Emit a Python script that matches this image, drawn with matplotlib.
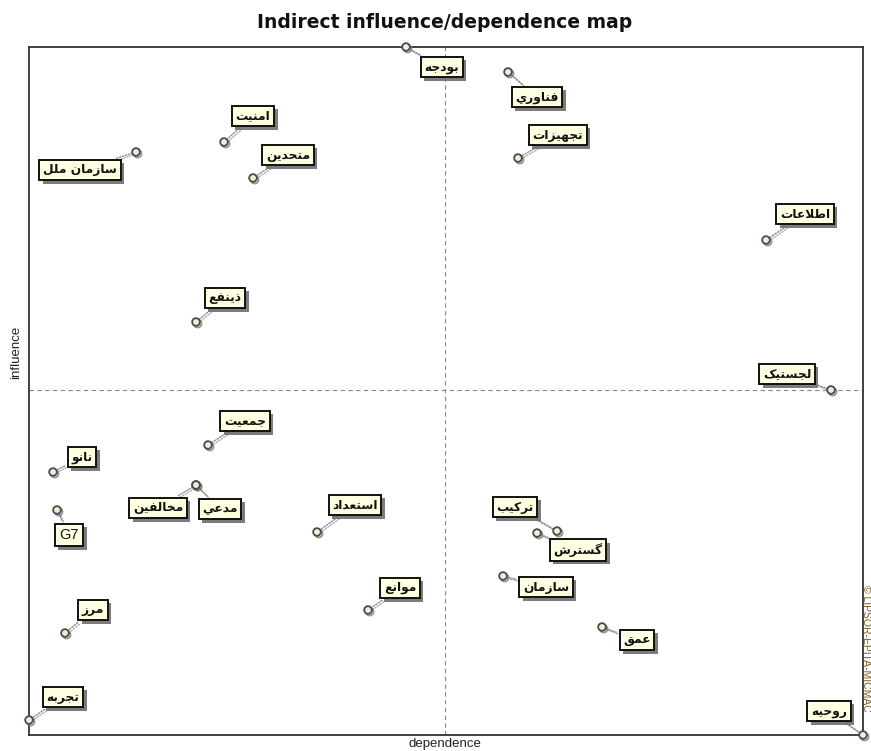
import matplotlib
matplotlib.use("Agg")
import matplotlib.pyplot as plt
import matplotlib.patheffects as pe

# ---------------- data ----------------
variables = ["بودجه", "فناوري", "تجهيزات", "امنيت", "سازمان ملل", "متحدين",
             "اطلاعات", "ذينفع", "لجستيک", "جمعيت", "نانو", "مدعي", "مخالفين",
             "G7", "استعداد", "تركيب", "گسترش", "سازمان", "موانع", "عمق",
             "مرز", "تجربه", "روحيه"]
dependence = [377, 479, 489, 195, 107, 224, 737, 167, 802, 179, 24, 167, 167,
              28, 288, 528, 508, 474, 339, 573, 36, 0, 834]
influence = [688, 663, 577, 593, 583, 557, 495, 413, 345, 290, 263, 250, 250,
             225, 203, 204, 202, 159, 125, 108, 102, 15, 0]
mean_dependence = 416
mean_influence = 345
title = "Indirect influence/dependence map"
x_label = "dependence"
y_label = "influence"
credit = "© LIPSOR-EPITA-MICMAC"

# ---------------- layout (label offsets in pixels) ----------------
label_offsets = [(36, -20), (29, -25), (40, 23), (29, 26), (-56, -18), (35, 23),
                 (39, 26), (29, 24), (-44, 16), (37, 24), (29, 15), (24, -24),
                 (-38, -23), (12, -25), (38, 27), (-42, 24), (41, -17),
                 (43, -11), (32, 22), (35, -13), (28, 23), (34, 23), (-34, 24)]

# ---------------- simple Arabic/Persian shaping ----------------
# char: (isolated, final, initial, medial) ; None for right-joining only
FORMS = {
    "ا": (0xFE8D, 0xFE8E, None, None),
    "ب": (0xFE8F, 0xFE90, 0xFE91, 0xFE92),
    "ت": (0xFE95, 0xFE96, 0xFE97, 0xFE98),
    "ث": (0xFE99, 0xFE9A, 0xFE9B, 0xFE9C),
    "ج": (0xFE9D, 0xFE9E, 0xFE9F, 0xFEA0),
    "ح": (0xFEA1, 0xFEA2, 0xFEA3, 0xFEA4),
    "خ": (0xFEA5, 0xFEA6, 0xFEA7, 0xFEA8),
    "د": (0xFEA9, 0xFEAA, None, None),
    "ذ": (0xFEAB, 0xFEAC, None, None),
    "ر": (0xFEAD, 0xFEAE, None, None),
    "ز": (0xFEAF, 0xFEB0, None, None),
    "س": (0xFEB1, 0xFEB2, 0xFEB3, 0xFEB4),
    "ش": (0xFEB5, 0xFEB6, 0xFEB7, 0xFEB8),
    "ط": (0xFEC1, 0xFEC2, 0xFEC3, 0xFEC4),
    "ع": (0xFEC9, 0xFECA, 0xFECB, 0xFECC),
    "ف": (0xFED1, 0xFED2, 0xFED3, 0xFED4),
    "ق": (0xFED5, 0xFED6, 0xFED7, 0xFED8),
    "ك": (0xFED9, 0xFEDA, 0xFEDB, 0xFEDC),
    "ل": (0xFEDD, 0xFEDE, 0xFEDF, 0xFEE0),
    "م": (0xFEE1, 0xFEE2, 0xFEE3, 0xFEE4),
    "ن": (0xFEE5, 0xFEE6, 0xFEE7, 0xFEE8),
    "ه": (0xFEE9, 0xFEEA, 0xFEEB, 0xFEEC),
    "و": (0xFEED, 0xFEEE, None, None),
    "ي": (0xFEF1, 0xFEF2, 0xFEF3, 0xFEF4),
    "ک": (0xFB8E, 0xFB8F, 0xFB90, 0xFB91),
    "گ": (0xFB92, 0xFB93, 0xFB94, 0xFB95),
}


def shape(word):
    chars = list(word)
    out = []
    i = 0
    n = len(chars)

    def joins_next(c):
        return c in FORMS and FORMS[c][2] is not None

    while i < n:
        c = chars[i]
        if c not in FORMS:
            out.append(c)
            i += 1
            continue
        prev = chars[i - 1] if i > 0 else None
        jp = prev is not None and joins_next(prev)
        # lam-alef ligature
        if c == "ل" and i + 1 < n and chars[i + 1] == "ا":
            out.append(chr(0xFEFC if jp else 0xFEFB))
            i += 2
            continue
        nxt = chars[i + 1] if i + 1 < n else None
        jn = joins_next(c) and nxt is not None and nxt in FORMS
        iso, fin, ini, med = FORMS[c]
        if jp and jn:
            g = med
        elif jp:
            g = fin
        elif jn:
            g = ini
        else:
            g = iso
        out.append(chr(g))
        i += 1
    return "".join(out)[::-1]


def display(word):
    if any(ch in FORMS for ch in word):
        return shape(word)
    return word


# ---------------- figure ----------------
W, H = 871, 751
fig = plt.figure(figsize=(W / 100, H / 100), dpi=100)
ax = fig.add_axes([29 / W, 1 - 735 / H, (863 - 29) / W, (735 - 47) / H])
ax.set_xlim(min(dependence), max(dependence))
ax.set_ylim(min(influence), max(influence))
ax.set_xticks([])
ax.set_yticks([])
for s in ax.spines.values():
    s.set_color("#333333")
    s.set_linewidth(1.3)

ax.axvline(mean_dependence, color="#888888", lw=0.8, ls=(0, (4, 3)), zorder=1)
ax.axhline(mean_influence, color="#888888", lw=0.8, ls=(0, (4, 3)), zorder=1)

shadow_box = [pe.SimplePatchShadow(offset=(2.5, -2.5), shadow_rgbFace="#6e6e6e", alpha=0.9),
              pe.Normal()]
shadow_line = [pe.SimpleLineShadow(offset=(1.2, -1.2), shadow_color="#999999", alpha=0.8),
               pe.Normal()]

for name, x, y, off in zip(variables, dependence, influence, label_offsets):
    is_latin = not any(ch in FORMS for ch in name)
    ann = ax.annotate(
        display(name), xy=(x, y), xytext=off, textcoords="offset pixels",
        ha="center", va="center",
        fontsize=10.5 if is_latin else 8.8,
        fontweight="normal" if is_latin else "bold",
        family="DejaVu Sans" if not is_latin else "Liberation Sans",
        color="#111111",
        bbox=dict(boxstyle="square,pad=0.3", fc="#FFFFE1", ec="#111111", lw=1.4),
        arrowprops=dict(arrowstyle="-", color="#8a8a8a", lw=1.0, ls=(0, (1, 1.2)),
                        shrinkA=2, shrinkB=0, path_effects=shadow_line),
        annotation_clip=False, zorder=5,
    )
    ann.get_bbox_patch().set_path_effects(shadow_box)

ax.plot(dependence, influence, ls="none", marker="o", ms=5.5, mfc="#EFEFD8",
        mec="#4a4a4a", mew=1.3, zorder=6, clip_on=False,
        path_effects=[pe.SimpleLineShadow(offset=(1.2, -1.2), shadow_color="#777777", alpha=0.8),
                      pe.Normal()])

fig.text(445 / W, 1 - 23 / H, title, ha="center", va="center",
         fontsize=13.5, fontweight="bold", family="DejaVu Sans", color="#111111")
fig.text(445 / W, 1 - 744 / H, x_label, ha="center", va="center",
         fontsize=9.5, family="Liberation Sans", color="#222222")
fig.text(16 / W, 1 - 352 / H, y_label, ha="center", va="center", rotation=90,
         fontsize=9.5, family="Liberation Sans", color="#222222")
fig.text(866 / W, 1 - 585 / H, credit, ha="center", va="top", rotation=-90,
         fontsize=7.5, family="Liberation Sans", color="#7a5a20")

fig.savefig("out.png", dpi=100)
